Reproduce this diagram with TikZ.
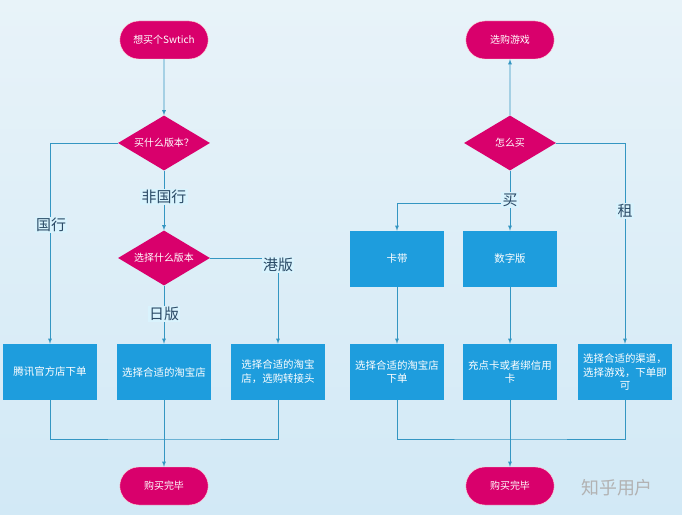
\documentclass[tikz,border=0pt]{standalone}
\usepackage{fontspec}
\setmainfont{Noto Sans CJK SC}
\XeTeXlinebreaklocale "zh"
\XeTeXlinebreakskip=0pt
\usetikzlibrary{shapes.geometric,shapes.misc,positioning}
\definecolor{pinkfill}{HTML}{D9006C}
\definecolor{boxblue}{HTML}{1E9DDD}
\definecolor{linecol}{HTML}{3496C2}
\definecolor{labtext}{HTML}{2A4A66}
\definecolor{bgtop}{HTML}{E8F3F9}
\definecolor{bgbot}{HTML}{D2E9F6}

\begin{document}
\begin{tikzpicture}[x=1bp,y=-1bp,>=latex,
    line/.style={draw=linecol,line width=0.8pt},
    term/.style={rounded rectangle,fill=pinkfill,draw=pink!60,text=white,
      minimum width=95bp,minimum height=38bp,font=\fontsize{10}{12}\selectfont},
    dec/.style={diamond,fill=pinkfill,text=white,aspect=1.7,inner sep=0pt,
      minimum width=92bp,minimum height=55bp,font=\fontsize{10}{12}\selectfont},
    box/.style={rectangle,fill=boxblue,text=white,minimum width=94bp,
      minimum height=56bp,text width=92bp,inner sep=1bp,align=center,
      font=\fontsize{10.5}{14}\selectfont},
    lab/.style={fill=white!85!cyan,text=labtext,inner sep=1.5pt,
      font=\fontsize{15}{18}\selectfont}]
  \shade[top color=bgtop,bottom color=bgbot] (0,0) rectangle (682,515);
  \useasboundingbox (0,0) rectangle (682,515);

  % left flow
  \node[term] (start) at (164,40)  {想买个Swtich};
  \node[dec]  (ver)   at (164,143) {买什么版本？};
  \node[dec]  (sel)   at (164,258) {选择什么版本};
  \node[box]  (tx)    at (50,372)  {腾讯官方店下单};
  \node[box]  (tb)    at (164,372) {选择合适的淘宝店};
  \node[box]  (tbz)   at (278,372) {选择合适的淘宝\\店，选购转接头};
  \node[term] (endl)  at (164,486) {购买完毕};

  \draw[line,->] (start) -- (ver);
  \draw[line,->] (ver) -- (sel);
  \draw[line,->] (ver.west) -| (tx.north);
  \draw[line,->] (sel) -- (tb);
  \draw[line,->] (sel.east) -| (tbz.north);
  \draw[line] (tx.south) |- (164,439) -| (tbz.south);
  \draw[line,->] (tb.south) -- (endl.north);

  \node[lab] at (51,225)  {国行};
  \node[lab] at (164,197) {非国行};
  \node[lab] at (164,314) {日版};
  \node[lab] at (278,265) {港版};

  % right flow
  \node[term] (game)  at (510,40)  {选购游戏};
  \node[dec]  (how)   at (510,143) {怎么买};
  \node[box]  (card)  at (397,259) {卡带};
  \node[box]  (dig)   at (510,259) {数字版};
  \node[box]  (tbc)   at (397,372) {选择合适的淘宝店\\下单};
  \node[box]  (pay)   at (510,372) {充点卡或者绑信用\\卡};
  \node[box]  (rent)  at (625,372) {选择合适的渠道，\\选择游戏，下单即\\可};
  \node[term] (endr)  at (510,486) {购买完毕};

  \draw[line,->] (how) -- (game);
  \draw[line,->] (how) -- (dig);
  \draw[line,->] (510,203) -| (card.north);
  \draw[line,->] (how.east) -| (rent.north);
  \draw[line,->] (card) -- (tbc);
  \draw[line,->] (dig) -- (pay);
  \draw[line] (tbc.south) |- (510,439) -| (rent.south);
  \draw[line,->] (pay.south) -- (endr.north);

  \node[lab] at (510,200) {买};
  \node[lab] at (625,211) {租};

  \node[text=gray!60,font=\fontsize{18}{20}\selectfont] (mark) at (617,488) {知乎用户};
\end{tikzpicture}
\end{document}
